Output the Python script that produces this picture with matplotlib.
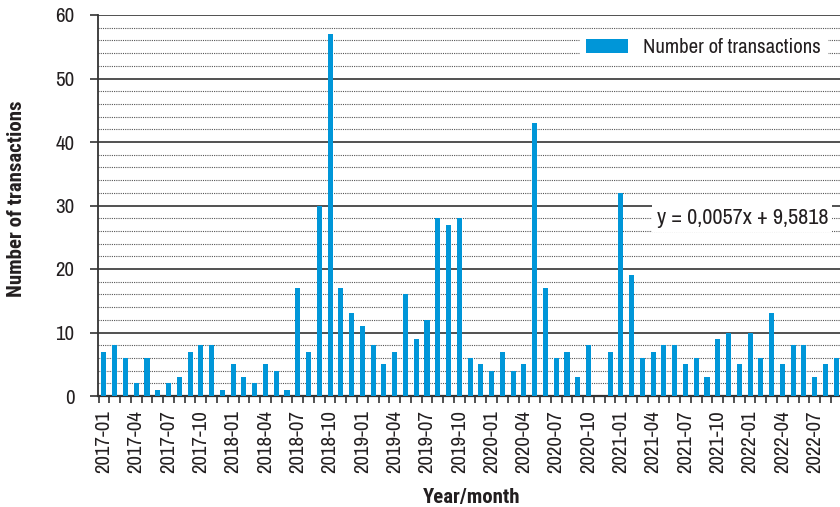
import numpy as np
import matplotlib
matplotlib.use('Agg')
import matplotlib.pyplot as plt
from matplotlib.ticker import MultipleLocator, FixedLocator

plt.rcParams['font.family'] = ['Archivo Narrow', 'Roboto Condensed', 'DejaVu Sans']

months = []
for yr in range(2017, 2023):
    for m in range(1, 13):
        months.append('%d-%02d' % (yr, m))
months = months[:69]  # 2017-01 .. 2022-09

counts = [7, 8, 6, 2, 6, 1, 2, 3, 7, 8, 8, 1,
          5, 3, 2, 5, 4, 1, 17, 7, 30, 57, 17, 13,
          11, 8, 5, 7, 16, 9, 12, 28, 27, 28, 6, 5,
          4, 7, 4, 5, 43, 17, 6, 7, 3, 8, 0, 7,
          32, 19, 6, 7, 8, 8, 5, 6, 3, 9, 10, 5,
          10, 6, 13, 5, 8, 8, 3, 5, 6]

trend_label = 'y = 0,0057x + 9,5818'
txt_col = '#231f20'
bold_fam = ['Roboto Condensed', 'DejaVu Sans']

fig = plt.figure(figsize=(8.4, 5.07), dpi=100)
ax = fig.add_axes([98/840, 111/507, 742/840, 381/507])

x = np.arange(len(counts))
ax.bar(x, counts, width=0.47, color='#0096d8', zorder=3, label='Number of transactions')

ax.set_xlim(-0.55, 68.35)
ax.set_ylim(0, 60)

# gridlines
ax.yaxis.set_major_locator(MultipleLocator(10))
ax.yaxis.set_minor_locator(MultipleLocator(2))
ax.grid(which='major', axis='y', color='#333333', linewidth=1.2, zorder=1)
ax.grid(which='minor', axis='y', color='#555555', linewidth=0.8, linestyle=(0, (1, 1)), zorder=1)
ax.grid(which='major', axis='x', visible=False)

ax.set_xticks(x[::3])
ax.set_xticklabels(months[::3], rotation=90)
ax.xaxis.set_minor_locator(FixedLocator(x - 0.5))
ax.tick_params(axis='x', which='major', length=0, labelsize=15, pad=10, labelcolor=txt_col)
ax.tick_params(axis='x', which='minor', length=5, width=1.2, color='#333333')
ax.tick_params(axis='y', which='major', length=6, width=1.2, color='#333333', labelsize=15,
               pad=11, labelcolor=txt_col)
ax.tick_params(axis='y', which='minor', length=0)

for s in ['top', 'right']:
    ax.spines[s].set_visible(False)
ax.spines['left'].set_color('#333333')
ax.spines['left'].set_linewidth(1.3)
ax.spines['bottom'].set_color('#333333')
ax.spines['bottom'].set_linewidth(1.6)

ax.set_ylabel('Number of transactions', fontsize=15, fontweight='bold', color=txt_col, family=bold_fam)
ax.set_xlabel('Year/month', fontsize=15, fontweight='bold', color=txt_col, family=bold_fam)
ax.yaxis.set_label_coords(-0.097, 0.518)
ax.xaxis.set_label_coords(0.503, -0.2415)

leg = ax.legend(loc='upper right', bbox_to_anchor=(0.982, 0.955), fontsize=15, frameon=True,
                fancybox=False, edgecolor='white', framealpha=1, handlelength=2.0,
                handleheight=0.6, handletextpad=0.7, borderpad=0.3, borderaxespad=0)
for t in leg.get_texts():
    t.set_color(txt_col)

ax.text(0.984, 28, trend_label, transform=ax.get_yaxis_transform(), ha='right', va='center',
        fontsize=16, color=txt_col, zorder=4,
        bbox=dict(facecolor='white', edgecolor='none', pad=3))

fig.savefig('out.png', dpi=100)
